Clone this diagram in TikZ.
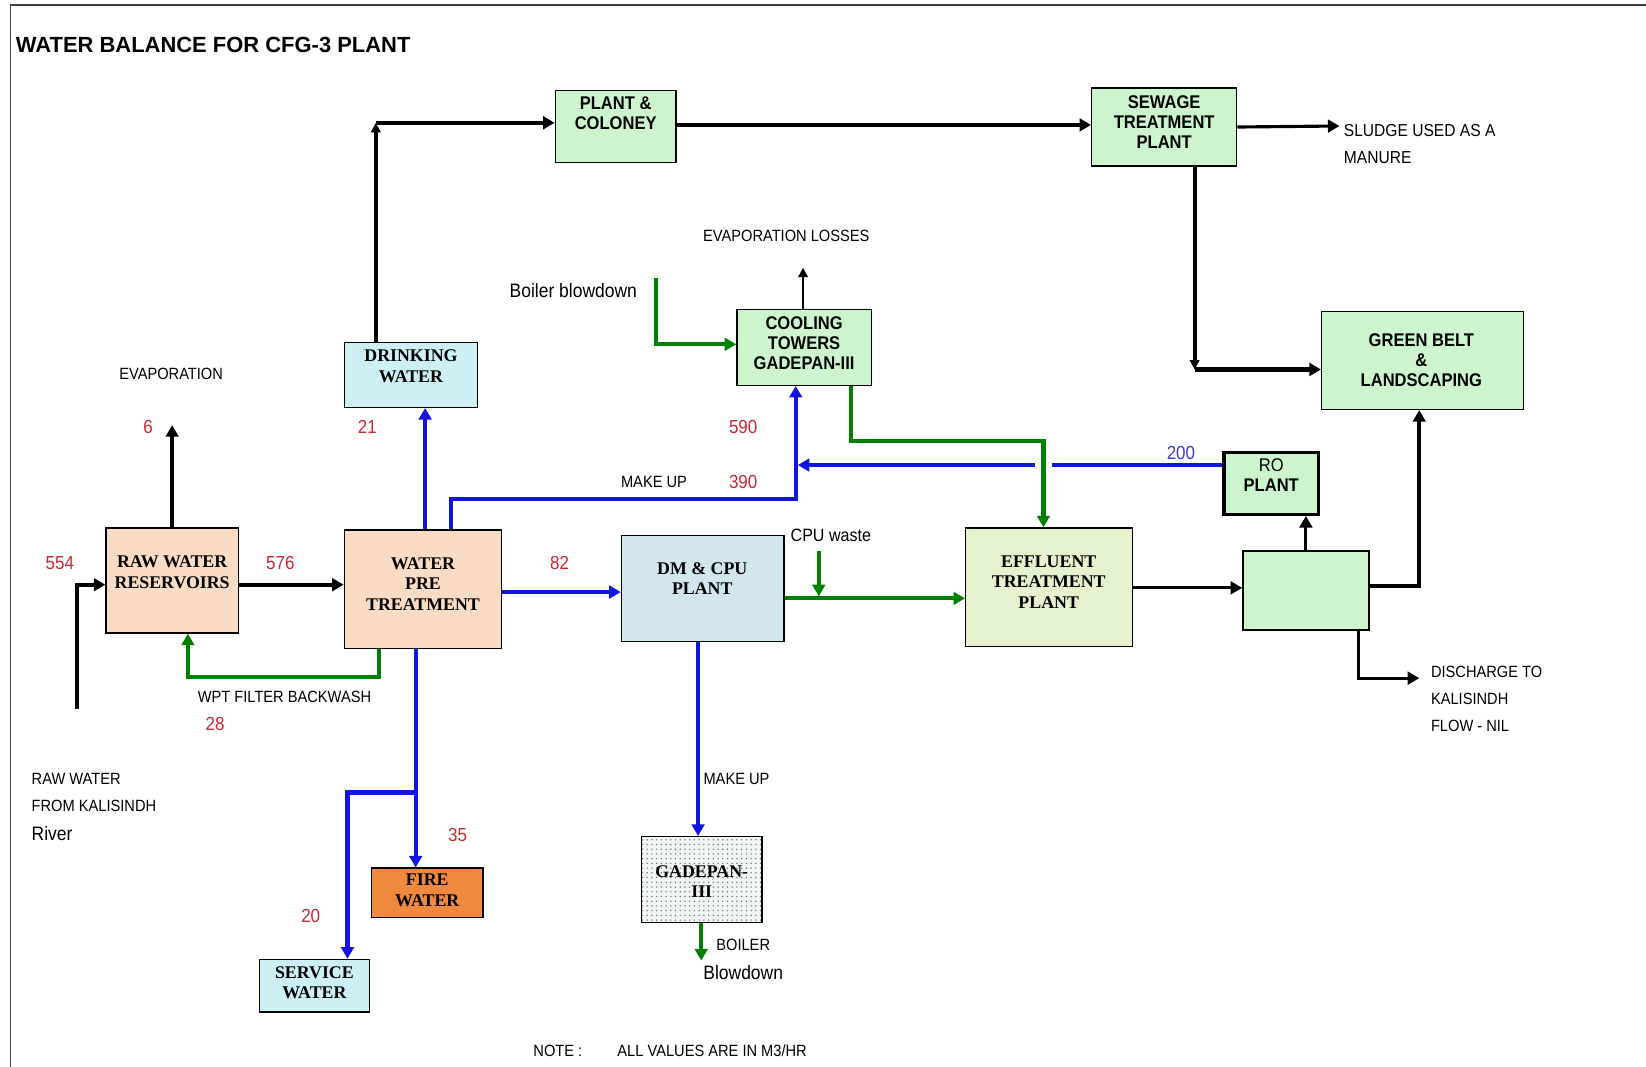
\documentclass[tikz,border=0pt]{standalone}
\usepackage{fontspec}
\setmainfont{Liberation Serif}
\newfontfamily\sansf[FakeStretch=0.9]{Liberation Sans}
\newfontfamily\titlef{Liberation Sans}
\usetikzlibrary{arrows.meta,patterns}
\pgfdeclarepatternformonly{gaddots}{\pgfqpoint{-1pt}{-1pt}}{\pgfqpoint{1pt}{1pt}}{\pgfqpoint{4.5pt}{4.5pt}}{\pgfpathcircle{\pgfqpoint{0pt}{0pt}}{0.75pt}\pgfusepath{fill}}
\definecolor{peach}{RGB}{250,220,196}
\definecolor{lcyan}{RGB}{205,240,245}
\definecolor{lgreen}{RGB}{205,245,205}
\definecolor{dmblue}{RGB}{210,230,238}
\definecolor{etpcol}{RGB}{228,242,205}
\definecolor{firecol}{RGB}{240,136,62}
\definecolor{gadcol}{RGB}{240,246,246}
\definecolor{lineblue}{RGB}{20,20,225}
\definecolor{linegreen}{RGB}{0,128,0}
\definecolor{numred}{RGB}{200,40,50}
\definecolor{roblue}{RGB}{60,60,200}
\tikzset{
  box/.style={draw=black, line width=1.3pt, inner sep=0pt},
  sl/.style={font=\fontsize{17}{19.5}\selectfont\bfseries, align=center, inner sep=0pt},
  ssl/.style={font=\sansf\fontsize{17.5}{19}\selectfont\bfseries, align=center, inner sep=0pt},
  lab/.style={font=\sansf\fontsize{15.5}{26}\selectfont, inner sep=0pt},
  mixl/.style={font=\sansf\fontsize{18.5}{26}\selectfont, inner sep=0pt},
  num/.style={font=\sansf\fontsize{18}{22}\selectfont, inner sep=0pt, text=numred},
  tipk/.style={-{Triangle[length=11pt,width=12pt]}},
  blk/.style={draw=black, line width=4pt},
  blu/.style={draw=lineblue, line width=4pt},
  grn/.style={draw=linegreen, line width=4pt},
}
\begin{document}
\begin{tikzpicture}[x=1pt,y=-1pt]
\useasboundingbox (0,0) rectangle (1568,1016);
% frame
\draw[line width=1.5pt, black!75] (10,1016) -- (10,5) -- (1568,5);
\node[anchor=west, font=\titlef\bfseries\fontsize{20.9}{24}\selectfont, inner sep=0pt] (title) at (15,43) {WATER BALANCE FOR CFG-3 PLANT};

% boxes
\node[box, fill=peach, minimum width=126pt, minimum height=100pt] (raw) at (164,553) {};
\node[sl] (rawt) at (164,545) {RAW WATER\\RESERVOIRS};
\node[box, fill=peach, minimum width=150pt, minimum height=113pt] (wpt) at (403,561.5) {};
\node[sl] (wptt) at (403,556) {WATER\\PRE\\TREATMENT};
\node[box, fill=lcyan, minimum width=127pt, minimum height=62pt] (drink) at (391.5,357) {};
\node[sl] (drinkt) at (391.5,349) {DRINKING\\WATER};
\node[box, fill=lgreen, minimum width=115pt, minimum height=69pt] (plant) at (586.5,120.5) {};
\node[ssl] (plantt) at (586.5,107.5) {PLANT \&\\COLONEY};
\node[box, fill=lgreen, minimum width=138pt, minimum height=74pt] (stp) at (1109,121) {};
\node[ssl] (stpt) at (1109,116) {SEWAGE\\TREATMENT\\PLANT};
\node[box, fill=lgreen, minimum width=192pt, minimum height=93pt] (green) at (1355,343.5) {};
\node[ssl] (greent) at (1354,343) {GREEN BELT\\\&\\LANDSCAPING};
\node[box, fill=lgreen, minimum width=128pt, minimum height=72pt] (cool) at (766,331) {};
\node[ssl] (coolt) at (766,327) {COOLING\\TOWERS\\GADEPAN-III};
\node[box, fill=dmblue, minimum width=155pt, minimum height=101pt] (dm) at (669.5,560.5) {};
\node[sl] (dmt) at (669,551) {DM \& CPU\\PLANT};
\node[box, fill=etpcol, minimum width=159pt, minimum height=113pt] (etp) at (999.5,559.5) {};
\node[sl] (etpt) at (999,554.5) {EFFLUENT\\TREATMENT\\PLANT};
\node[box, fill=lgreen, line width=3pt, minimum width=90pt, minimum height=59pt] (ro) at (1211,460.5) {};
\node[ssl] (rot) at (1211,453) {\mdseries RO\\PLANT};
\node[box, fill=lgreen, minimum width=120pt, minimum height=75pt] (ubox) at (1244,562.5) {};
\node[box, fill=firecol, minimum width=106pt, minimum height=47pt] (fire) at (407,850.5) {};
\node[sl] (firet) at (407,848) {FIRE\\WATER};
\node[box, fill=lcyan, minimum width=105pt, minimum height=50pt] (serv) at (299.5,939) {};
\node[sl] (servt) at (299.5,936) {SERVICE\\WATER};
\node[box, preaction={fill=gadcol}, pattern=gaddots, pattern color=black!55, minimum width=115pt, minimum height=82pt] (gad) at (668.5,838) {};
\node[sl] (gadt) at (668.5,840) {GADEPAN-\\III};

% free ends
\coordinate (rin) at (73,675);
\coordinate (evapc) at (164,405);
\coordinate (c1) at (358,117);
\coordinate (sludge) at (1276,120);
\coordinate (c2) at (1138,352);
\coordinate (bbin) at (625,265);
\coordinate (evl) at (765,255);
\coordinate (bbout) at (668,915);
\coordinate (cpuw) at (780,525);
\coordinate (disc) at (1352,646);
\coordinate (split) at (396,755);

% black connectors
\draw[blk, tipk] (rin) |- (raw.west |- 0,557);
\draw[blk, tipk] (raw.north) -- (evapc);
\draw[blk, tipk] (raw.east |- 0,557) -- (wpt.west |- 0,557);
\draw[blk, -{Triangle[length=9pt,width=9pt]}] (drink.north -| 358,0) -- (c1);
\draw[blk, tipk] (c1) -- (plant.west |- 0,117);
\draw[blk, tipk] (plant.east |- 0,119) -- (stp.west |- 0,119);
\draw[blk, line width=3pt, tipk] (stp.east |- 0,121) -- (sludge);
\draw[blk, -{Triangle[length=9pt,width=9pt]}] (stp.south -| 1138,0) -- (c2);
\draw[blk, tipk] (c2) -- (green.west |- 0,352);
\draw[black, line width=2pt, -{Triangle[length=9pt,width=9pt]}] (cool.north -| 765,0) -- (evl);
\draw[blk, line width=3pt, tipk] (etp.east |- 0,560) -- (ubox.west |- 0,560);
\draw[blk, line width=3pt, tipk] (ubox.north -| 1244,0) -- (ro.south -| 1244,0);
\draw[blk, tipk] (ubox.east |- 0,558) -| (green.south -| 1352,0);
\draw[blk, line width=3pt, tipk] (ubox.south -| 1294,0) |- (disc);

% blue connectors
\draw[blu, tipk] (wpt.north -| 405,0) -- (drink.south -| 405,0);
\draw[blu, tipk] (wpt.north -| 430,0) |- (758,475) -- (cool.south -| 758,0);
\draw[blu, tipk] (wpt.east |- 0,564) -- (dm.west |- 0,564);
\draw[blu, tipk] (wpt.south -| 396,0) -- (fire.north -| 396,0);
\draw[blu, tipk] (split) -| (serv.north -| 331,0);
\draw[blu, tipk] (dm.south -| 665,0) -- (gad.north -| 665,0);
\draw[draw=lineblue, line width=3pt] (ro.west |- 0,443) -- (1002,443);
\draw[draw=lineblue, line width=3pt, tipk] (986,443) -- (760,443);

% green connectors
\draw[grn, tipk] (wpt.south -| 361,0) |- (179,645) -- (raw.south -| 179,0);
\draw[grn, tipk] (gad.south -| 668,0) -- (bbout);
\draw[grn, tipk] (bbin) |- (cool.west |- 0,328);
\draw[grn, tipk] (cool.south -| 811,0) |- (994,420) -- (etp.north -| 994,0);
\draw[grn, tipk] (dm.east |- 0,570) -- (etp.west |- 0,570);
\draw[grn, tipk] (cpuw) -- (780,568);

% labels
\node[lab] (l1) at (163,356) {EVAPORATION};
\node[num] (n6) at (141,407) {6};
\node[num] (n21) at (350,407) {21};
\node[num] (n554) at (57,536) {554};
\node[num] (n576) at (267,536) {576};
\node[num] (n82) at (533,536) {82};
\node[num] (n590) at (708,407) {590};
\node[lab] (l2) at (623,459) {MAKE UP};
\node[num] (n390) at (708,459) {390};
\node[num, text=roblue] (n200) at (1125,432) {200};
\node[lab] (l3) at (271,664) {WPT FILTER BACKWASH};
\node[num] (n28) at (205,690) {28};
\node[lab, anchor=west] (l4a) at (30,742) {RAW WATER};
\node[lab, anchor=west] (l4b) at (30,768) {FROM KALISINDH};
\node[mixl, anchor=west] (l4c) at (30,794) {River};
\node[num] (n35) at (436,795) {35};
\node[num] (n20) at (296,873) {20};
\node[lab, anchor=west] (l5) at (670,742) {MAKE UP};
\node[lab] (l6a) at (708,900) {BOILER};
\node[mixl] (l6b) at (708,926) {Blowdown};
\node[lab, anchor=west] (l7) at (508,1001) {NOTE :};
\node[lab, anchor=west] (l8) at (588,1001) {ALL VALUES ARE IN M3/HR};
\node[lab] (l9) at (749,225) {EVAPORATION LOSSES};
\node[mixl, anchor=east] (l10) at (607,277) {Boiler blowdown};
\node[mixl, font=\sansf\fontsize{17}{22}\selectfont, anchor=west] (l11) at (753,510) {CPU waste};
\node[lab, font=\sansf\fontsize{16.5}{26}\selectfont, anchor=north west, align=left] (l12) at (1280,118) {SLUDGE USED AS A\\MANURE};
\node[lab, anchor=north west, align=left] (l13) at (1363,634) {DISCHARGE TO\\KALISINDH\\FLOW - NIL};
\end{tikzpicture}
\end{document}
